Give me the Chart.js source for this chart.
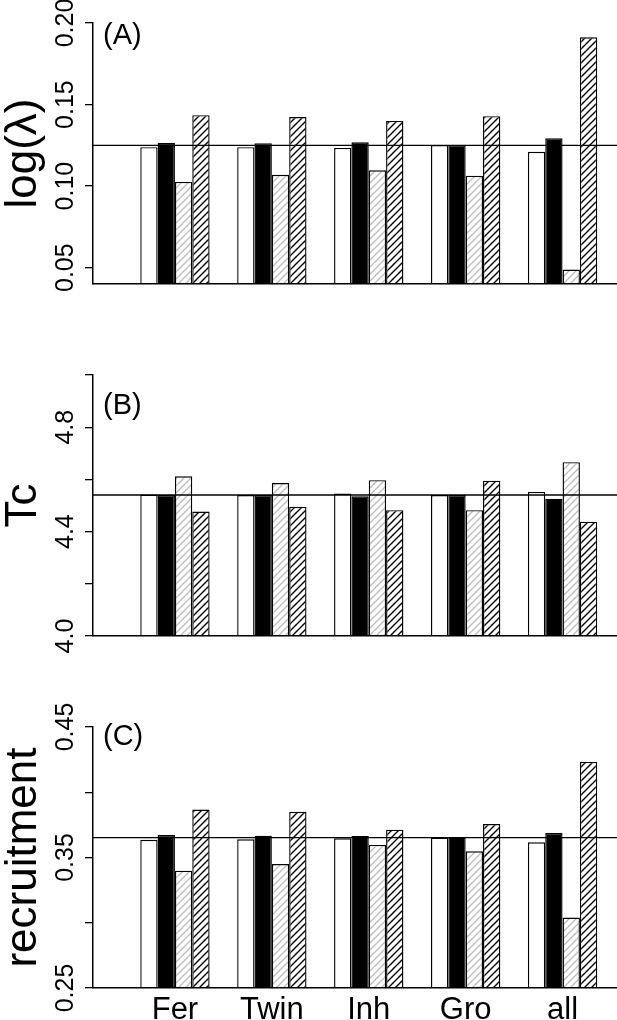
<!DOCTYPE html>
<html>
<head>
<meta charset="utf-8">
<script src="https://cdn.jsdelivr.net/npm/chart.js@4.4.0/dist/chart.umd.min.js"></script>
<style>
  body { margin: 0; background: #fff; }
  #wrap { position: relative; width: 617px; height: 1020px; overflow: hidden; }
  canvas { position: absolute; left: 0; }
</style>
</head>
<body>
<div id="wrap">
  <canvas id="chartA" width="617" height="340" style="top:0px"></canvas>
  <canvas id="chartB" width="617" height="350" style="top:340px"></canvas>
  <canvas id="chartC" width="617" height="330" style="top:690px"></canvas>
</div>
<script>
const categories = ['Fer', 'Twin', 'Inh', 'Gro', 'all'];

// (A) log(lambda)
const lambdaRef = 0.125;
const lambdaOpen = [0.1239, 0.1239, 0.1234, 0.1251, 0.1210];
const lambdaSolid = [0.1265, 0.1263, 0.1269, 0.1251, 0.1294];
const lambdaGrey = [0.1026, 0.1069, 0.1097, 0.1064, 0.0489];
const lambdaHatch = [0.1435, 0.1423, 0.1400, 0.1429, 0.1912];
const lambdaTicks = [0.05, 0.10, 0.15, 0.20];
const lambdaTickLabels = ['0.05', '0.10', '0.15', '0.20'];

// (B) Tc
const tcRef = 4.540;
const tcOpen = [4.542, 4.540, 4.546, 4.540, 4.552];
const tcSolid = [4.540, 4.540, 4.535, 4.540, 4.526];
const tcGrey = [4.612, 4.586, 4.597, 4.482, 4.666];
const tcHatch = [4.477, 4.495, 4.482, 4.595, 4.438];
const tcTicks = [4.0, 4.2, 4.4, 4.6, 4.8, 5.0];
const tcTickLabels = ['4.0', '', '4.4', '', '4.8', ''];

// (C) recruitment
const recRef = 0.3652;
const recOpen = [0.3636, 0.3639, 0.3647, 0.3652, 0.3616];
const recSolid = [0.3672, 0.3667, 0.3664, 0.3652, 0.3687];
const recGrey = [0.3399, 0.3450, 0.3596, 0.3547, 0.3040];
const recHatch = [0.3868, 0.3850, 0.3713, 0.3756, 0.4232];
const recTicks = [0.25, 0.30, 0.35, 0.40, 0.45];
const recTickLabels = ['0.25', '', '0.35', '', '0.45'];

const xMin = 0.1544;
const xMax = 5.5617;
const FONT = "'Liberation Sans', Arial, Helvetica, sans-serif";

function makeHatch(color, width) {
  const size = 7;
  const c = document.createElement('canvas');
  c.width = size;
  c.height = size;
  const g = c.getContext('2d');
  g.fillStyle = '#fff';
  g.fillRect(0, 0, size, size);
  g.strokeStyle = color;
  g.lineWidth = width;
  g.beginPath();
  g.moveTo(-1, size + 1); g.lineTo(size + 1, -1);
  g.moveTo(-1, 1); g.lineTo(1, -1);
  g.moveTo(size - 1, size + 1); g.lineTo(size + 1, size - 1);
  g.stroke();
  return g.createPattern(c, 'repeat');
}
const greyHatch = makeHatch('#bdbdbd', 1.3);
const blackHatch = makeHatch('#000', 1.4);

// rotated y tick labels + panel tag
const panelText = {
  id: 'panelText',
  afterDraw(chart, args, opts) {
    const ctx = chart.ctx;
    const y = chart.scales.y;
    ctx.save();
    ctx.fillStyle = '#000';
    ctx.font = opts.tickSize + 'px ' + FONT;
    ctx.textAlign = 'center';
    ctx.textBaseline = 'alphabetic';
    y.ticks.forEach((t, i) => {
      const label = opts.tickLabels[i];
      if (!label) return;
      ctx.save();
      ctx.translate(y.right - opts.labelGap, y.getPixelForValue(t.value));
      ctx.rotate(-Math.PI / 2);
      ctx.fillText(label, 0, 0);
      ctx.restore();
    });
    ctx.font = '29px ' + FONT;
    ctx.textAlign = 'left';
    ctx.textBaseline = 'middle';
    ctx.fillText(opts.tag, chart.chartArea.left + 10, chart.chartArea.top + opts.tagOffset);
    ctx.restore();
  }
};

function toPoints(values) {
  return values.map((v, i) => ({ x: i + 1, y: v }));
}

function makePanel(id, p) {
  const barBase = { base: p.min, borderColor: '#000', borderWidth: 1.4, order: 1 };
  return new Chart(document.getElementById(id), {
    type: 'bar',
    data: {
      datasets: [
        { ...barBase, data: toPoints(p.open), backgroundColor: '#fff' },
        { ...barBase, data: toPoints(p.solid), backgroundColor: '#000' },
        { ...barBase, data: toPoints(p.grey), backgroundColor: greyHatch },
        { ...barBase, data: toPoints(p.hatch), backgroundColor: blackHatch },
        {
          type: 'line', order: 0,
          data: [{ x: xMin, y: p.ref }, { x: xMax, y: p.ref }],
          borderColor: '#000', borderWidth: 1.4, pointRadius: 0, fill: false
        }
      ]
    },
    options: {
      responsive: false,
      animation: false,
      events: [],
      categoryPercentage: 0.7155,
      barPercentage: 1.0,
      layout: { padding: { top: p.padTop, bottom: p.padBottom, left: 0, right: 0 } },
      plugins: {
        legend: { display: false },
        tooltip: { enabled: false },
        panelText: { tickLabels: p.tickLabels, tickSize: 25, labelGap: 20, tag: p.tag, tagOffset: p.tagOffset }
      },
      scales: {
        x: {
          type: 'linear', min: xMin, max: xMax, offset: false,
          afterBuildTicks: s => { s.ticks = categories.map((c, i) => ({ value: i + 1 })); },
          afterFit: s => { s.height = p.xHeight; },
          grid: { display: true, drawOnChartArea: false, drawTicks: false, offset: false },
          border: { display: true, color: '#000', width: 1.5, z: 1 },
          ticks: {
            display: p.showNames, autoSkip: false, maxRotation: 0, padding: 4,
            color: '#000', font: { family: FONT, size: 31 },
            callback: (v, i) => categories[i]
          }
        },
        y: {
          type: 'linear', min: p.min, max: p.max,
          afterBuildTicks: s => { s.ticks = p.ticks.map(v => ({ value: v })); },
          afterFit: s => { s.width = 93; },
          grid: { display: true, drawOnChartArea: false, drawTicks: true, tickLength: 8, color: '#000', lineWidth: 1.3 },
          border: { display: true, color: '#000', width: 1.5 },
          ticks: { display: false },
          title: {
            display: true, text: p.title, color: '#000', padding: 0,
            font: { family: FONT, size: 44, lineHeight: 1.1 }
          }
        }
      }
    },
    plugins: [panelText]
  });
}

makePanel('chartA', {
  ref: lambdaRef, open: lambdaOpen, solid: lambdaSolid, grey: lambdaGrey, hatch: lambdaHatch,
  min: 0.04, max: 0.20, ticks: lambdaTicks, tickLabels: lambdaTickLabels,
  title: 'log(λ)', tag: '(A)', tagOffset: 13,
  padTop: 23, padBottom: 56, xHeight: 0, showNames: false
});
makePanel('chartB', {
  ref: tcRef, open: tcOpen, solid: tcSolid, grey: tcGrey, hatch: tcHatch,
  min: 4.0, max: 5.0, ticks: tcTicks, tickLabels: tcTickLabels,
  title: 'Tc', tag: '(B)', tagOffset: 31,
  padTop: 35, padBottom: 54, xHeight: 0, showNames: false
});
makePanel('chartC', {
  ref: recRef, open: recOpen, solid: recSolid, grey: recGrey, hatch: recHatch,
  min: 0.25, max: 0.45, ticks: recTicks, tickLabels: recTickLabels,
  title: 'recruitment', tag: '(C)', tagOffset: 10,
  padTop: 37, padBottom: 0, xHeight: 32, showNames: true
});
</script>
</body>
</html>
